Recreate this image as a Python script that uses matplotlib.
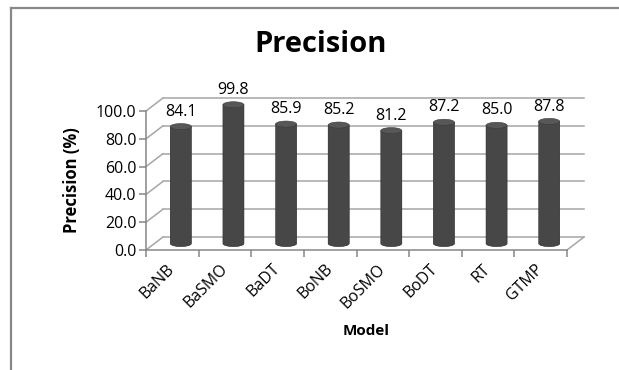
import numpy as np
import matplotlib.pyplot as plt
from matplotlib.patches import PathPatch, Ellipse, ConnectionPatch
from matplotlib.path import Path
from matplotlib.lines import Line2D

plt.rcParams['font.family'] = ['Open Sans', 'DejaVu Sans']

# Precision of each model (%)
models = ['BaNB', 'BaSMO', 'BaDT', 'BoNB', 'BoSMO', 'BoDT', 'RT', 'GTMP']
precision = [84.1, 99.8, 85.9, 85.2, 81.2, 87.2, 85.0, 87.8]
y_ticks = [0, 20, 40, 60, 80, 100]

W, H = 619, 370
fig = plt.figure(figsize=(W / 100, H / 100), dpi=100)

# front plane of the pseudo-3D box (pixels)
fx, fy, fw, fh = 146, 120, 421, 139
depth = (17, 13)        # offset of the back wall
mid = (8.5, 6.5)        # offset of the cylinder axis plane

n = len(models)
grid_col = '#a6a6a6'
axis_col = '#868686'


def plane(dx, dy, z, ymin=0):
    # axes sharing the same value scale, shifted by (dx, dy) pixels
    extra = -ymin * fh / 100
    a = fig.add_axes([(fx + dx) / W, (fy + dy - extra) / H, fw / W, (fh + extra) / H])
    a.set_xlim(0, n)
    a.set_ylim(ymin, 100)
    a.set_zorder(z)
    a.patch.set_visible(False)
    return a


# back wall with gridlines
ax_back = plane(depth[0], depth[1], 0)
ax_back.axis('off')
for v in y_ticks:
    ax_back.plot([0, n], [v, v], color=grid_col, lw=1.1, clip_on=False)

# front axes: ticks and labels
ax = plane(0, 0, 1)
for s in ['top', 'right']:
    ax.spines[s].set_visible(False)
for s in ['left', 'bottom']:
    ax.spines[s].set_color(axis_col)
    ax.spines[s].set_linewidth(1.1)
ax.set_yticks(y_ticks)
ax.set_yticklabels([f'{v:.1f}' for v in y_ticks], fontsize=11.5)
ax.tick_params(axis='y', length=5, width=1.1, color=axis_col, pad=2)
ax.set_xticks(np.arange(n + 1))
ax.set_xticklabels([])
ax.tick_params(axis='x', which='major', length=5, width=1.1, color=axis_col)
ax.set_xticks(np.arange(n) + 0.5, minor=True)
ax.set_xticklabels(models, minor=True, rotation=45, ha='right', va='center',
                   rotation_mode='anchor', fontsize=11.5)
ax.tick_params(axis='x', which='minor', length=0, pad=12)

# side wall diagonals and the right floor edge
for v in y_ticks:
    fig.add_artist(ConnectionPatch((0, v), (0, v), coordsA=ax.transData,
                                   coordsB=ax_back.transData, color=grid_col,
                                   lw=1.1, zorder=0.5))
fig.add_artist(ConnectionPatch((n, 0), (n, 0), coordsA=ax.transData,
                               coordsB=ax_back.transData, color=grid_col,
                               lw=1.1, zorder=0.5))

# cylinders
ax_bar = plane(mid[0], mid[1], 2, ymin=-10)
ax_bar.axis('off')
bw = 0.40
eh = 4.4
t = np.linspace(0, 1, 64)
shade = 0.27 + 0.2 * np.sin(np.pi * t) ** 1.5 * (1 - 0.35 * t)
grad = np.tile(shade, (2, 1))
for i, v in enumerate(precision):
    xc = i + 0.5
    x0, x1 = xc - bw / 2, xc + bw / 2
    ang = np.linspace(np.pi, 2 * np.pi, 40)
    arc = np.column_stack([xc + bw / 2 * np.cos(ang), eh / 2 * np.sin(ang)])
    verts = np.vstack([[x0, v], arc, [x1, v], [x0, v]])
    codes = [Path.MOVETO] + [Path.LINETO] * (len(verts) - 2) + [Path.CLOSEPOLY]
    body = PathPatch(Path(verts, codes), facecolor='#474747', edgecolor='#3a3a3a',
                     lw=0.4, clip_on=False)
    ax_bar.add_patch(body)
    im = ax_bar.imshow(grad, cmap='gray', vmin=0, vmax=1, aspect='auto',
                       extent=[x0, x1, -eh / 2, v], interpolation='bilinear')
    im.set_clip_path(body)
    ax_bar.add_patch(Ellipse((xc, v), bw, eh, facecolor='#575757',
                             edgecolor='#3a3a3a', lw=0.4, clip_on=False))
    ax_bar.annotate(f'{v:.1f}', (xc, v), xytext=(0, 5), textcoords='offset points',
                    ha='center', va='bottom', fontsize=11.5, annotation_clip=False)
ax_bar.set_xlim(0, n)
ax_bar.set_ylim(-10, 100)

# titles
fig.text(321 / W, 1 - 45 / H, 'Precision', ha='center', va='center',
         fontsize=21, fontweight='bold')
fig.text(72 / W, 1 - 180 / H, 'Precision (%)', ha='center', va='center',
         rotation=90, fontsize=12, fontweight='bold')
fig.text(366 / W, 1 - 331 / H, 'Model', ha='center', va='center',
         fontsize=11, fontweight='bold')

# frame lines at the left and top edges
fig.add_artist(Line2D([11 / W, 11 / W], [0, 1 - 8 / H], color='#888888', lw=1.6))
fig.add_artist(Line2D([11 / W, 1], [1 - 8 / H, 1 - 8 / H], color='#888888', lw=1.6))

fig.savefig('out.png', dpi=100)
